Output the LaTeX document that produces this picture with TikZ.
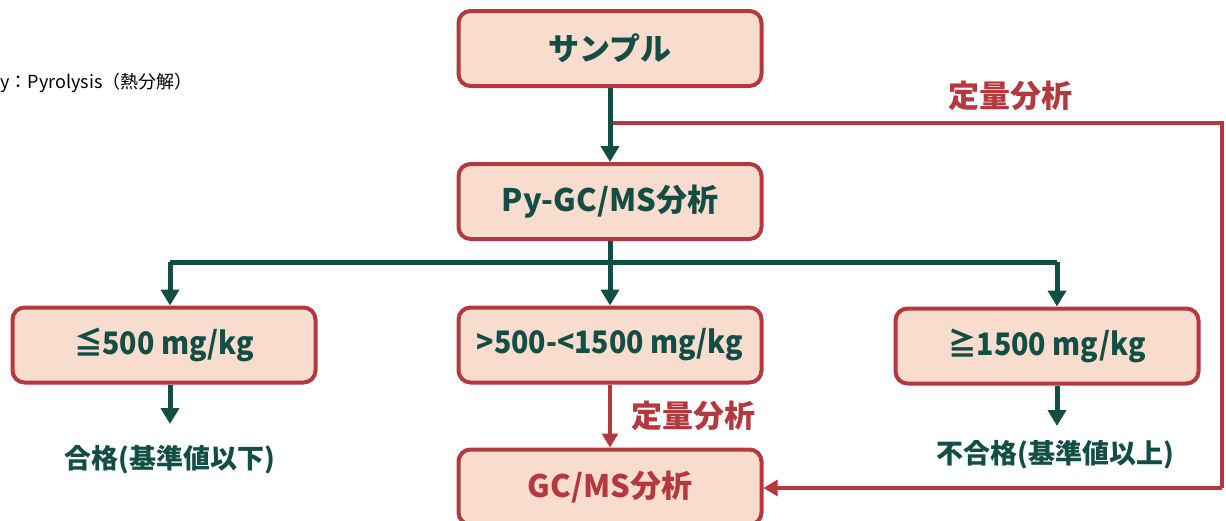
\documentclass[tikz,border=0pt]{standalone}
\usepackage{fontspec}
\usepackage{graphicx}
\setmainfont{Noto Sans CJK JP}
\usetikzlibrary{arrows.meta}
\definecolor{boxfill}{HTML}{F8DDCE}
\definecolor{boxred}{HTML}{B3393E}
\definecolor{dkgreen}{HTML}{124E45}
\newcommand{\narrowtxt}[1]{\scalebox{0.92}[1]{#1}}
\tikzset{
  fbox/.style={draw=boxred, line width=2pt, fill=boxfill, rounded corners=6pt,
    minimum width=151.5pt, minimum height=37.5pt, inner sep=0pt,
    font=\fontsize{15.5}{17}\selectfont\bfseries, text=dkgreen},
  garrow/.style={draw=dkgreen, line width=2.5pt, -{Triangle[width=9pt,length=8pt]}},
  gline/.style={draw=dkgreen, line width=2.5pt},
  rarrow/.style={draw=boxred, line width=1.6pt, -{Triangle[width=8pt,length=7pt]}},
  rlabel/.style={text=boxred, font=\fontsize{15.5}{17}\selectfont\bfseries},
  glabel/.style={text=dkgreen, font=\fontsize{13.5}{15}\selectfont\bfseries},
}
\begin{document}
\begin{tikzpicture}[x=0.5pt,y=-0.5pt]
\useasboundingbox (0,0) rectangle (1226,520);
\node[anchor=west, font=\fontsize{9}{11}\selectfont, inner sep=0pt] (note) at (0,83) {y：Pyrolysis（熱分解）};
\node[fbox] (s) at (610,48.5) {サンプル};
\node[fbox] (py) at (610,201.5) {Py-GC/MS分析};
\node[fbox] (a) at (164,345) {\narrowtxt{≦500 mg/kg}};
\node[fbox] (b) at (610,345) {\narrowtxt{>500-<1500 mg/kg}};
\node[fbox] (c) at (1047,346) {\narrowtxt{≧1500 mg/kg}};
\node[fbox, text=boxred] (g) at (610,487) {GC/MS分析};
\node[glabel] (pass) at (170,460) {合格(基準値以下)};
\node[glabel] (fail) at (1055,455) {不合格(基準値以上)};
\node[rlabel] (q1) at (1010,96) {定量分析};
\node[rlabel] (q2) at (693,416) {定量分析};
\coordinate (split) at (610,123);
\coordinate (rc1) at (1222,123);
\coordinate (rc2) at (1222,488);
\coordinate (bus) at (610,262);
\coordinate (busl) at (170,262);
\coordinate (busr) at (1057,262);
\coordinate (passend) at (170,424);
\coordinate (failend) at (1057,426);
% red quantitative path
\draw[boxred, line width=1.6pt] (split) -- (rc1) -- (rc2);
\draw[rarrow] (rc2) -- (g.east |- rc2);
% sample -> Py
\draw[garrow] (s.south) -- (py.north);
% Py -> branches
\draw[gline] (py.south) -- (bus);
\draw[gline] (busl) -- (busr);
\draw[garrow] (busl) -- (busl |- a.north);
\draw[garrow] (bus) -- (b.north);
\draw[garrow] (busr) -- (busr |- c.north);
\draw[garrow] (passend |- a.south) -- (passend);
\draw[garrow] (failend |- c.south) -- (failend);
\draw[rarrow] (b.south) -- (g.north);
\end{tikzpicture}
\end{document}
